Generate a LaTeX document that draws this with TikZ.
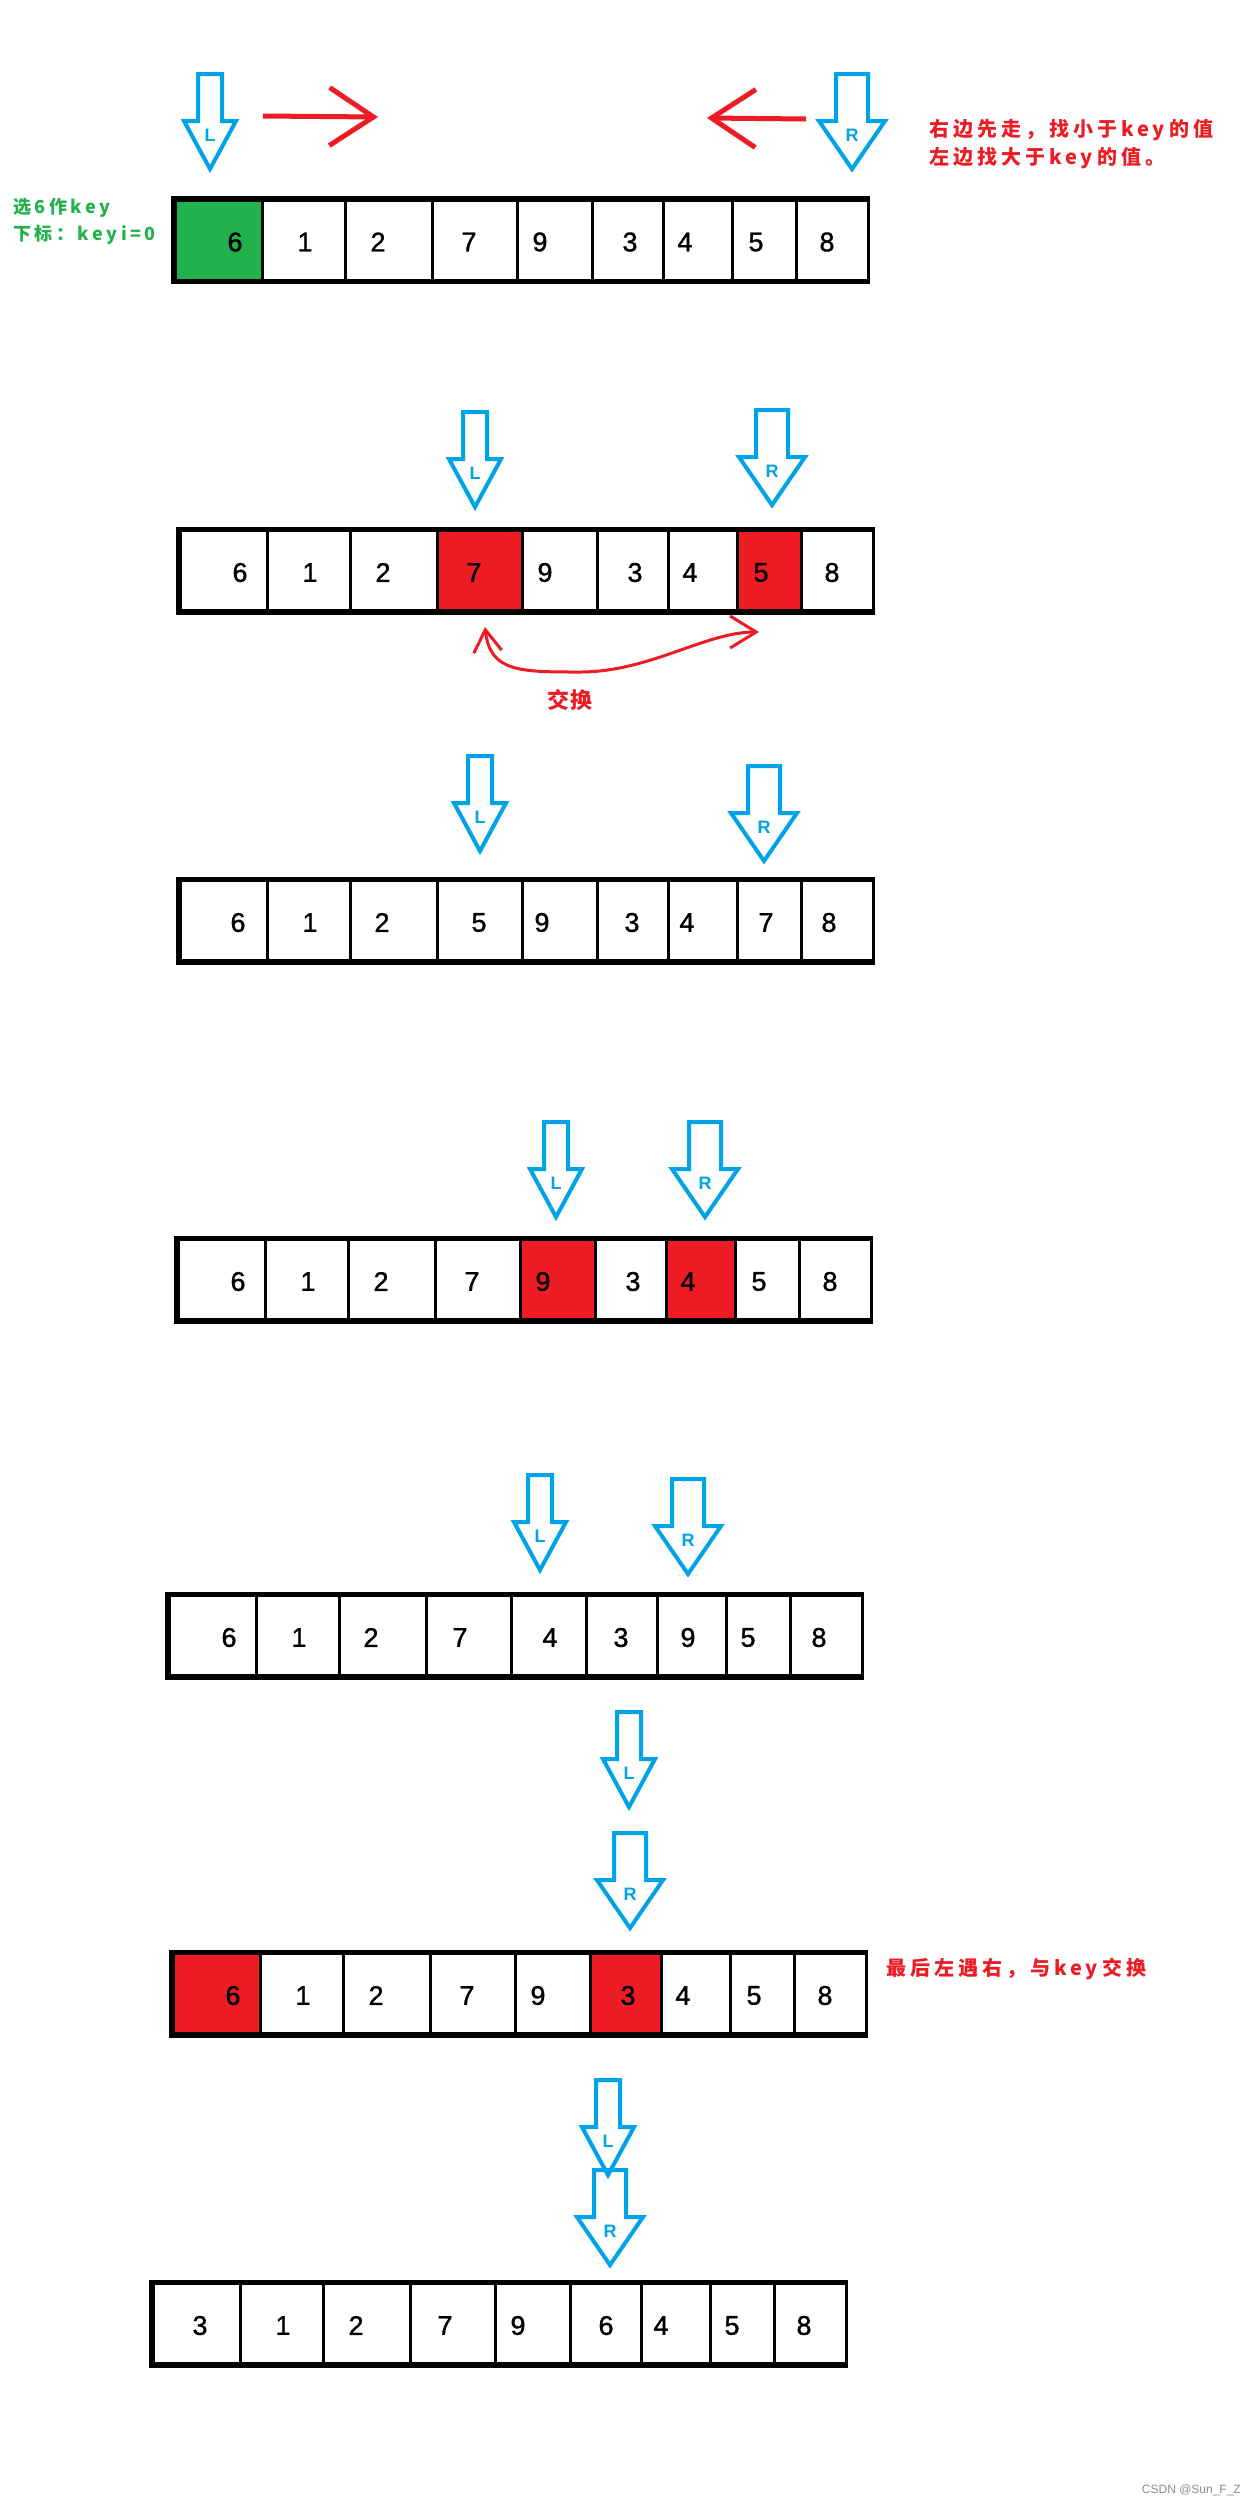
\documentclass[tikz,border=0pt]{standalone}
\usepackage{fontspec}
\setmainfont{Liberation Sans}
\newfontfamily\digits[FakeBold=1.2]{Liberation Sans}
\newfontfamily\cjk[LetterSpace=20]{Noto Sans CJK SC}
\newfontfamily\cjkswp[LetterSpace=9]{Noto Sans CJK SC}
\usetikzlibrary{arrows.meta}
\definecolor{paintblue}{HTML}{00A2E8}
\definecolor{paintred}{HTML}{ED1C24}
\definecolor{paintgreen}{HTML}{22B14C}
\tikzset{cell/.style={draw,line width=3pt,minimum height=80pt,inner sep=0pt},num/.style={font=\digits\fontsize{27}{27}\selectfont,inner sep=0pt},frame/.style={line width=5pt},ptr/.style={draw=paintblue,line width=4pt},ptrtext/.style={font=\bfseries\fontsize{18}{18}\selectfont,text=paintblue,inner sep=0pt}}
\newcommand{\numrow}[4]{%
  \foreach \val/\dx/\fillc [count=\i] in {#4}{%
    \pgfmathsetmacro{\cellL}{{0,87,170,257,342,417,488,557,621,693}[\i-1]}%
    \pgfmathsetmacro{\cellR}{{0,87,170,257,342,417,488,557,621,693}[\i]}%
    \node[cell,fill=\fillc,minimum width=\cellR-\cellL] (#1-\i) at ({#2+(\cellL+\cellR)/2},#3+40) {};
    \node[num] (#1-v\i) at (#2+\dx,#3+42) {\val};}%
  \draw[frame] (#1-9.north east) -- (#1-1.north west) -- (#1-1.south west) -- (#1-9.south east);}
\newcommand{\pointer}[6]{%
  \draw[ptr] (#2-#4,#3+2) -- (#2+#4,#3+2) -- (#2+#4,#3+49) -- (#2+#5,#3+49) -- (#2,#3+97) -- (#2-#5,#3+49) -- (#2-#4,#3+49) -- cycle;
  \node[ptrtext] (#1) at (#2,#3+63) {#6};}

\begin{document}
\begin{tikzpicture}[x=1pt,y=-1pt,move/.style={-{Straight Barb[length=44pt,width=58pt]},draw=paintred,line width=5pt},xchg/.style={{Straight Barb[length=22pt,width=28pt]}-{Straight Barb[length=26pt,width=32pt]},draw=paintred,line width=3pt},note/.style={font=\cjk\bfseries\fontsize{20}{28}\selectfont,text=paintred,inner sep=0pt,align=left},keynote/.style={font=\cjk\bfseries\fontsize{18}{27}\selectfont,text=paintgreen,inner sep=0pt,align=left}]
\fill[white] (0,0) rectangle (1254,2504);
\useasboundingbox (0,0) rectangle (1254,2504);
\numrow{a1}{175}{200}{6/60/paintgreen,1/130/white,2/203/white,7/294/white,9/365/white,3/455/white,4/510/white,5/581/white,8/652/white}
\numrow{a2}{180}{530.5}{6/60/white,1/130/white,2/203/white,7/294/paintred,9/365/white,3/455/white,4/510/white,5/581/paintred,8/652/white}
\numrow{a3}{180}{880.5}{6/58/white,1/130/white,2/202/white,5/299/white,9/362/white,3/452/white,4/507/white,7/586/white,8/649/white}
\numrow{a4}{178}{1239.5}{6/60/white,1/130/white,2/203/white,7/294/white,9/365/paintred,3/455/white,4/510/paintred,5/581/white,8/652/white}
\numrow{a5}{169}{1595.5}{6/60/white,1/130/white,2/202/white,7/291/white,4/381/white,3/452/white,9/519/white,5/579/white,8/650/white}
\numrow{a6}{173}{1953.5}{6/60/paintred,1/130/white,2/203/white,7/294/white,9/365/white,3/455/paintred,4/510/white,5/581/white,8/652/white}
\numrow{a7}{153}{2283.5}{3/47/white,1/130/white,2/203/white,7/292/white,9/365/white,6/453/white,4/508/white,5/579/white,8/651/white}
\pointer{l1}{210}{72}{12}{26}{L}\pointer{r1}{852}{72}{16}{33}{R}
\pointer{l2}{475}{410}{12}{26}{L}\pointer{r2}{772}{408}{16}{33}{R}
\pointer{l3}{480}{754}{12}{26}{L}\pointer{r3}{764}{764}{16}{33}{R}
\pointer{l4}{556}{1120}{12}{26}{L}\pointer{r4}{705}{1120}{16}{33}{R}
\pointer{l5}{540}{1473}{12}{26}{L}\pointer{r5}{688}{1477}{16}{33}{R}
\pointer{l6}{629}{1710}{12}{26}{L}\pointer{r6}{630}{1831}{16}{33}{R}
\pointer{l7}{608}{2078}{12}{26}{L}\pointer{r7}{610}{2168}{16}{33}{R}
\coordinate (goR0) at (263,116);\coordinate (goR1) at (378,117);
\coordinate (goL0) at (806,119);\coordinate (goL1) at (707,118);
\draw[move] (goR0)--(goR1);\draw[move] (goL0)--(goL1);
\node[note,anchor=west] (rule) at (929,144) {右边先走，找小于key的值\\左边找大于key的值。};
\node[keynote,anchor=west] (keyinfo) at (13,221) {选6作key\\下标：keyi=0};
\coordinate (swA) at (485,627);\coordinate (swB) at (759,632);
\draw[xchg] (swA) .. controls (490,672) and (520,672) .. (580,672) .. controls (650,672) and (705,632) .. (swB);
\node[font=\cjkswp\bfseries\fontsize{22}{22}\selectfont,text=paintred,inner sep=0pt] (xchgtxt) at (570,700) {交换};
\node[note,anchor=west] (endnote) at (886,1969) {最后左遇右，与key交换};
\node[font=\fontsize{12}{12}\selectfont,text=black!45,anchor=east,inner sep=0pt] (mark) at (1241,2490) {CSDN @Sun\_F\_Z};
\end{tikzpicture}
\end{document}
